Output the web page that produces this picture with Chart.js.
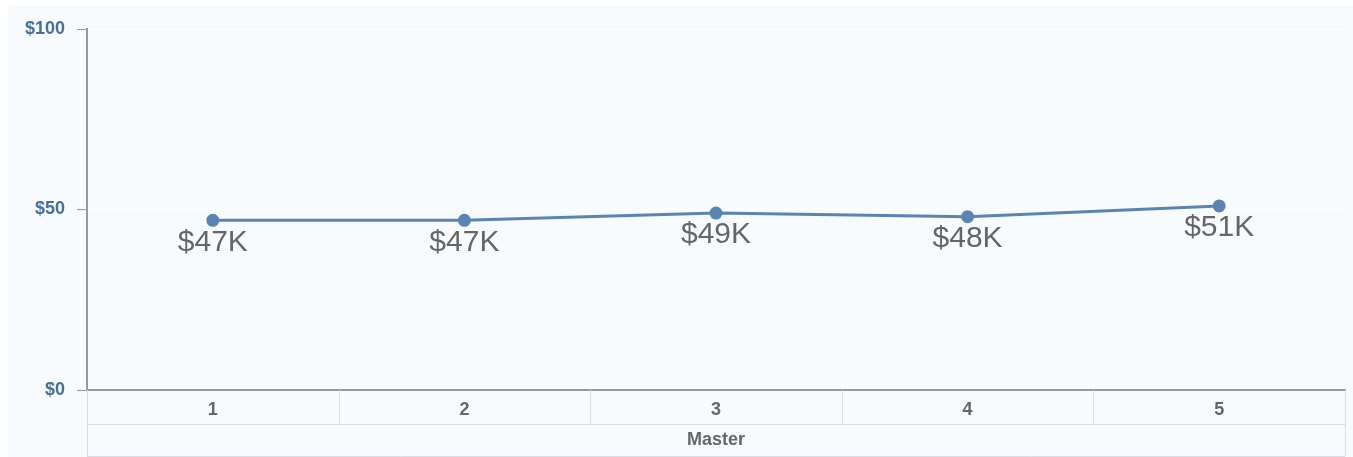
<!DOCTYPE html>
<html>
<head>
<meta charset="utf-8">
<script src="https://cdn.jsdelivr.net/npm/chart.js@4"></script>
<style>
  html, body { margin: 0; padding: 0; background: #ffffff; }
  #wrap { width: 1353px; height: 457px; position: relative; }
</style>
</head>
<body>
<div id="wrap"><canvas id="Salary-Chart"></canvas></div>
<script>
const labels = ["1", "2", "3", "4", "5"];
const values = [47, 47, 49, 48, 51];
const valueLabels = ["$47K", "$47K", "$49K", "$48K", "$51K"];
const yTicks = [0, 50, 100];
const groupLabel = "Master";

// background + table under the x axis
const tablePlugin = {
  id: "table",
  beforeDraw(chart) {
    const ctx = chart.ctx;
    ctx.save();
    ctx.fillStyle = "#f7fbfe";
    ctx.fillRect(8, 5, chart.width - 8, chart.height - 5);
    ctx.restore();
  },
  afterDraw(chart) {
    const ctx = chart.ctx;
    const x = chart.scales.x;
    const area = chart.chartArea;
    const row1 = area.bottom + 34;
    const row2 = chart.height - 1;
    ctx.save();
    ctx.strokeStyle = "#d9dee4";
    ctx.lineWidth = 1;
    ctx.beginPath();
    // cell separators
    for (let i = 0; i <= labels.length; i++) {
      let px;
      if (i === 0) px = area.left;
      else if (i === labels.length) px = area.right;
      else px = (x.getPixelForValue(i - 1) + x.getPixelForValue(i)) / 2;
      px = Math.round(px) + 0.5;
      ctx.moveTo(px, area.bottom);
      ctx.lineTo(px, (i === 0 || i === labels.length) ? row2 : row1);
    }
    ctx.moveTo(area.left, row1 + 0.5);
    ctx.lineTo(area.right, row1 + 0.5);
    ctx.moveTo(area.left, row2 + 0.5);
    ctx.lineTo(area.right, row2 + 0.5);
    ctx.stroke();
    ctx.fillStyle = "#666666";
    ctx.font = "bold 18px Arial, 'Liberation Sans'";
    ctx.textAlign = "center";
    ctx.textBaseline = "middle";
    ctx.fillText(groupLabel, (area.left + area.right) / 2, (row1 + row2) / 2);

    // value labels under the points
    const meta = chart.getDatasetMeta(0);
    ctx.font = "30px Arial, 'Liberation Sans'";
    ctx.textBaseline = "top";
    ctx.fillStyle = "#666666";
    meta.data.forEach((pt, i) => {
      ctx.fillText(valueLabels[i], pt.x, pt.y + 7);
    });
    ctx.restore();
  }
};

const data = {
  labels: labels,
  datasets: [
    {
      data: values,
      borderColor: "#5b84b4",
      backgroundColor: "#5b84b4",
      borderWidth: 3,
      pointRadius: 5,
      pointHoverRadius: 5,
      tension: 0,
    },
  ],
};

const config = {
  type: "line",
  data: data,
  options: {
    responsive: true,
    maintainAspectRatio: false,
    animation: false,
    layout: { padding: { top: 29, right: 0, left: 0, bottom: 0 } },
    plugins: {
      legend: { display: false },
      tooltip: { enabled: false },
    },
    scales: {
      x: {
        type: "category",
        offset: true,
        afterFit: (s) => { s.height = 67; },
        grid: { display: false, drawOnChartArea: false },
        border: { display: true, color: "#999999", width: 2 },
        ticks: {
          color: "#666666",
          font: { family: "Arial, 'Liberation Sans'", size: 18, weight: "bold" },
          padding: 1,
          maxRotation: 0,
        },
      },
      y: {
        min: 0,
        max: 100,
        afterFit: (s) => { s.width = 87; },
        afterBuildTicks: (s) => { s.ticks = yTicks.map(v => ({ value: v })); },
        grid: {
          color: "#ffffff",
          tickColor: "#999999",
          tickLength: 10,
        },
        border: { display: true, color: "#999999", width: 2 },
        ticks: {
          color: "#4a6e9a",
          padding: 12,
          font: { family: "Arial, 'Liberation Sans'", size: 18, weight: "bold" },
          callback: (v) => "$" + v,
        },
      },
    },
  },
  plugins: [tablePlugin],
};

let myChart = new Chart(document.getElementById("Salary-Chart"), config);
</script>
</body>
</html>
